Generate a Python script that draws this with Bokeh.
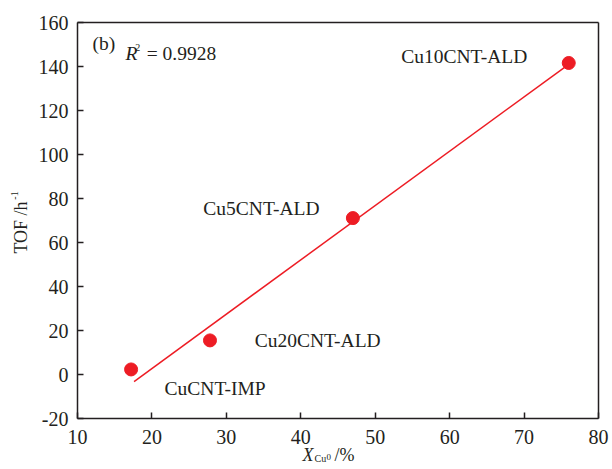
import numpy as np
from bokeh.plotting import figure
from bokeh.models import Range1d, FixedTicker, Label, ColumnDataSource, LinearAxis
from bokeh.embed import file_html
from bokeh.resources import INLINE

# ---- data ----
samples = ["CuCNT-IMP", "Cu20CNT-ALD", "Cu5CNT-ALD", "Cu10CNT-ALD"]
x_cu0 = [17.2, 27.8, 47.0, 76.0]
tof = [2.3, 15.5, 71.1, 141.6]
fit_x = [17.6, 76.0]
fit_y = [-3.2, 141.0]
x_ticks = [10, 20, 30, 40, 50, 60, 70, 80]
y_ticks = [-20, 0, 20, 40, 60, 80, 100, 120, 140, 160]
x_lim = (10, 80)
y_lim = (-20, 160)
r2_text = "= 0.9928"

FONT = "Liberation Serif"
TXT = "#231f20"
RED = "#ed1c24"
W, H = 612, 469
# where the plotting box sits on the page (pixels)
BOX_L, BOX_R, BOX_T, BOX_B = 77, 598, 22, 418
sx = (BOX_R - BOX_L) / (x_lim[1] - x_lim[0])
sy = (BOX_B - BOX_T) / (y_lim[1] - y_lim[0])
xr = Range1d(x_lim[0] - BOX_L / sx, x_lim[1] + (W - BOX_R) / sx)
yr = Range1d(y_lim[0] - (H - BOX_B) / sy, y_lim[1] + BOX_T / sy)

def px2x(px):
    return x_lim[0] + (px - BOX_L) / sx

def py2y(py):
    return y_lim[0] + (BOX_B - py) / sy

p = figure(width=W, height=H, output_backend="svg", toolbar_location=None,
           x_range=xr, y_range=yr, x_axis_location=None, y_axis_location=None,
           min_border=0)
p.grid.visible = False
p.outline_line_color = None
p.background_fill_color = "white"
p.border_fill_color = "white"

def style_axis(ax, ticks, show_labels=True):
    ax.ticker = FixedTicker(ticks=ticks)
    ax.major_label_overrides = {t: str(t) for t in ticks}
    ax.major_tick_in = 6
    ax.major_tick_out = 0
    ax.minor_tick_in = 0
    ax.minor_tick_out = 0
    ax.axis_line_width = 1.5
    ax.axis_line_color = TXT
    ax.major_tick_line_width = 1.5
    ax.major_tick_line_color = TXT
    ax.major_label_text_font = FONT
    ax.major_label_text_font_size = "20px" if show_labels else "0px"
    ax.major_label_text_color = TXT

xa = LinearAxis(fixed_location=y_lim[0], bounds=x_lim, major_label_standoff=11)
style_axis(xa, x_ticks)
p.add_layout(xa, "below")
ya = LinearAxis(fixed_location=x_lim[0], bounds=y_lim, major_label_standoff=9)
style_axis(ya, y_ticks)
p.add_layout(ya, "left")
ta = LinearAxis(fixed_location=y_lim[1], bounds=x_lim)
style_axis(ta, [], show_labels=False)
p.add_layout(ta, "above")
ra = LinearAxis(fixed_location=x_lim[1], bounds=y_lim)
style_axis(ra, [], show_labels=False)
p.add_layout(ra, "right")

# fit line and points
p.line(fit_x, fit_y, line_color=RED, line_width=1.5)
src = ColumnDataSource(dict(x=x_cu0, y=tof, name=samples))
p.scatter("x", "y", source=src, size=13, fill_color=RED, line_color=RED)

def lab(x, y, text, size="19.5px", style="normal", align="left", angle=0.0):
    p.add_layout(Label(x=x, y=y, text=text, text_font=FONT, text_font_size=size,
                       text_font_style=style, text_color=TXT, text_align=align,
                       text_baseline="middle", angle=angle))

# sample labels
label_pos = {"CuCNT-IMP": (21.7, -6.4), "Cu20CNT-ALD": (33.8, 15.5),
             "Cu5CNT-ALD": (26.9, 75.5), "Cu10CNT-ALD": (53.5, 144.5)}
for s in samples:
    lx, ly = label_pos[s]
    lab(lx, ly, s)

lab(12.0, 150.5, "(b)")
lab(16.45, 146.0, "R", style="italic")
lab(17.75, 148.6, "2", size="10px")
lab(19.3, 146.0, r2_text)

# axis titles (pixel positions converted to data space)
lab(px2x(20), py2y(227), "TOF /h", size="18px", align="center", angle=np.pi / 2)
lab(px2x(14), py2y(195), "-1", size="10px", align="center", angle=np.pi / 2)

lab(px2x(302), py2y(454), "X", size="18px", style="italic")
lab(px2x(314), py2y(458), "Cu", size="10px")
lab(px2x(326), py2y(456), "0", size="9px")
lab(px2x(334), py2y(454), "/%", size="18px")

with open("out.html", "w") as f:
    f.write(file_html(p, INLINE))
